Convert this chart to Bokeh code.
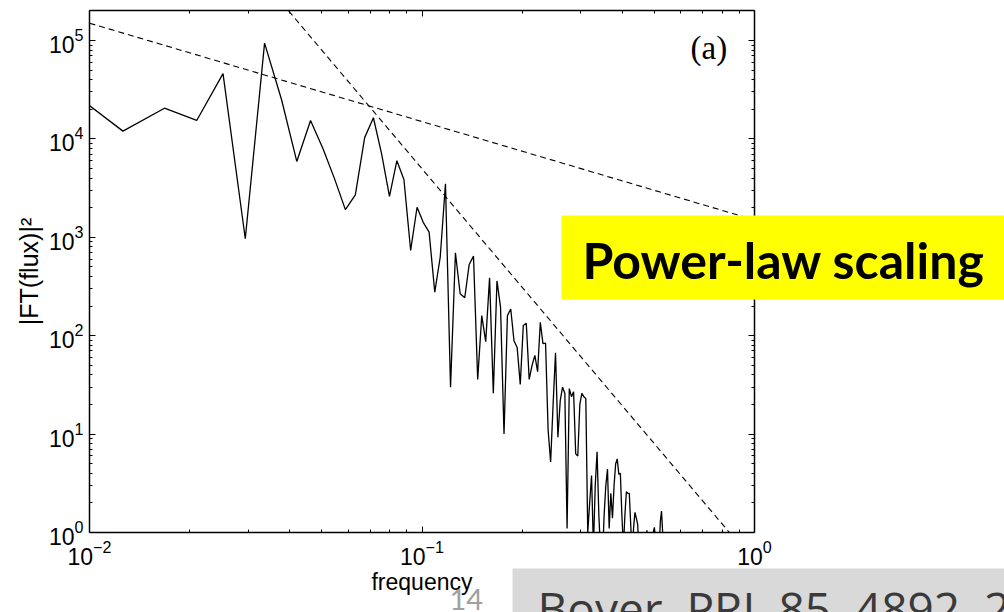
from bokeh.plotting import figure
from bokeh.models import (LogAxis, FixedTicker, LogTickFormatter, BoxAnnotation,
                          Label, Range1d, CustomJSTickFormatter, LogScale)
from bokeh.embed import file_html
from bokeh.resources import INLINE

# ---------------- data ----------------
harmonic = list(range(2, 131))          # FFT bin index
record_length = 238.0                    # frequency = bin / record_length
power = [
    34000, 12000, 20500, 15400, 46000, 966, 94000, 25000, 5900, 15400,   # k=2..11
    7900, 3900, 1910, 2700, 10300, 16400, 7000, 2600, 6000, 3870,         # k=12..21
    735, 2020, 1420, 1130, 277, 628, 3500, 30, 695, 267,                  # k=22..31
    243, 530, 643, 36, 160, 87, 387, 26, 360, 195,                        # k=32..41
    10, 160, 187, 89, 76, 32, 127, 134, 36, 50,                           # k=42..51
    63, 43, 137, 83, 84, 11, 5.2, 20, 67, 9.3,                            # k=52..61
    22, 30, 26, 1.1, 29, 24, 27, 6.3, 6, 20,                              # k=62..71
    26, 24, 23, 1.0, 2, 3.8, 0.7, 3, 6.6, 1.5,                            # k=72..81
    0.6, 0.5, 1.5, 3, 4.4, 1.1, 2.5, 1.4, 3, 5,                           # k=82..91
    5.6, 3.9, 4, 1.5, 0.7, 1.5, 2.6, 2.5, 2.5, 1.2,                       # k=92..101
    0.6, 1.1, 1.6, 1.4, 1.2, 0.6, 0.4, 0.5, 0.3, 0.6,                     # k=102..111
    0.8, 1.05, 0.7, 0.4, 0.5, 0.8, 1.0, 1.13, 0.8, 0.5,                   # k=112..121
    0.4, 0.7, 1.3, 1.65, 1.0, 0.5, 0.3, 0.4, 0.2,                         # k=122..130
]
frequency = [k / record_length for k in harmonic]

# power-law guide lines (endpoints)
fit1_f = [0.01, 1.0]
fit1_p = [1.5e5, 1.5e3]       # ~ f^-1
fit2_f = [0.0397, 0.9]
fit2_p = [2.0e5, 0.76]        # ~ f^-4

x_major = [0.01, 0.1, 1.0]
x_minor = [0.02, 0.03, 0.04, 0.05, 0.06, 0.07, 0.08, 0.09,
           0.2, 0.3, 0.4, 0.5, 0.6, 0.7, 0.8, 0.9]
y_major = [1, 10, 100, 1000, 10000, 100000]
y_minor = [m * d for d in (1, 10, 100, 1000, 10000) for m in range(2, 10)] + [2e5]

x_label = "frequency"
y_label = "|FT(flux)|\u00b2"
panel_tag = "(a)"
callout = "Power-law scaling"
reference = "Boyer, PRL 85, 4892, 2000"
page_no = "14"

# ---------------- layout (pixels of the 1004x612 canvas) ----------------
W, H = 1004, 612
BOX_L, BOX_R, BOX_T, BOX_B = 89, 754, 10, 532
X_DEC = (BOX_R - BOX_L) / 2.0      # px per decade on x (0.01 .. 1)
Y_DEC = 98.4                       # px per decade on y
x_lo = 10 ** (-2 - BOX_L / X_DEC)
x_hi = 10 ** ((W - BOX_R) / X_DEC)
y_lo = 10 ** (-(H - BOX_B) / Y_DEC)
y_hi = 10 ** (BOX_B / Y_DEC)
y_top = 10 ** ((BOX_B - BOX_T) / Y_DEC)

FONT = "'Liberation Sans', Arial, Helvetica, sans-serif"

p = figure(width=W, height=H, x_axis_type=None, y_axis_type=None,
           x_range=Range1d(x_lo, x_hi), y_range=Range1d(y_lo, y_hi),
           output_backend="svg", toolbar_location=None, min_border=0)
p.x_scale = LogScale()
p.y_scale = LogScale()
p.grid.visible = False
p.outline_line_color = None
p.background_fill_color = "white"
p.border_fill_color = "white"

# data lines
p.line(frequency, power, line_color="black", line_width=1.3)
p.line(fit1_f, fit1_p, line_color="black", line_width=1.1, line_dash="6 4")
p.line(fit2_f, fit2_p, line_color="black", line_width=1.1, line_dash="6 4")

# white masks outside the axes box (drawn over the lines, under the axes)
far_x = (x_lo / 100, x_hi * 100)
far_y = (y_lo / 100, y_hi * 100)
masks = [
    dict(left=far_x[0], right=far_x[1], bottom=far_y[0], top=1.0),
    dict(left=far_x[0], right=far_x[1], bottom=y_top, top=far_y[1]),
    dict(left=far_x[0], right=0.01, bottom=far_y[0], top=far_y[1]),
    dict(left=1.0, right=far_x[1], bottom=far_y[0], top=far_y[1]),
]
for kw in masks:
    p.add_layout(BoxAnnotation(fill_color="white", fill_alpha=1.0, line_color=None,
                               level="glyph", **kw))


def make_axis(fixed, bounds, major, minor, show_labels):
    ax = LogAxis(fixed_location=fixed, bounds=bounds,
                 ticker=FixedTicker(ticks=major, minor_ticks=minor))
    ax.formatter = LogTickFormatter() if show_labels else CustomJSTickFormatter(code="return ''")
    ax.major_tick_in = 6
    ax.major_tick_out = 0
    ax.minor_tick_in = 3
    ax.minor_tick_out = 0
    ax.axis_line_color = "black"
    ax.axis_line_width = 1.5
    ax.major_tick_line_color = "black"
    ax.minor_tick_line_color = "black"
    ax.major_tick_line_width = 1
    ax.minor_tick_line_width = 1
    ax.major_label_text_font = FONT
    ax.major_label_text_font_size = "23px" if show_labels else "1px"
    ax.major_label_text_color = "black"
    ax.axis_label_text_font = FONT
    ax.axis_label_text_font_style = "normal"
    ax.axis_label_text_color = "black"
    return ax


xb = make_axis(1.0, (0.01, 1.0), x_major, x_minor, True)
xb.axis_label = x_label
xb.axis_label_text_font_size = "23px"
xb.major_label_standoff = 7
xb.axis_label_standoff = 1
p.add_layout(xb, "below")

yl = make_axis(0.01, (1.0, y_top), y_major, y_minor, True)
yl.axis_label = y_label
yl.axis_label_text_font_size = "25px"
yl.major_label_standoff = 6
yl.axis_label_standoff = 3
p.add_layout(yl, "left")

xt = make_axis(y_top, (0.01, 1.0), x_major, x_minor, False)
xt.major_label_standoff = 0
p.add_layout(xt, "above")

yr = make_axis(1.0, (1.0, y_top), y_major, y_minor, False)
yr.major_label_standoff = 0
p.add_layout(yr, "right")

# annotations (screen units: x from canvas left, y from canvas bottom)
p.add_layout(Label(x=690, y=H - 47, x_units="screen", y_units="screen",
                   text=panel_tag, text_font="'Liberation Serif', 'Times New Roman', serif",
                   text_font_size="33px", text_color="black",
                   text_align="left", text_baseline="alphabetic"))

p.add_layout(BoxAnnotation(left=561, right=W + 10, top=H - 215, bottom=H - 299,
                           left_units="screen", right_units="screen",
                           top_units="screen", bottom_units="screen",
                           fill_color="#ffff00", fill_alpha=1.0, line_color=None))
p.add_layout(Label(x=582, y=H - 259, x_units="screen", y_units="screen",
                   text=callout, text_font="Lato", text_font_style="bold",
                   text_font_size="50px", text_color="black",
                   text_align="left", text_baseline="alphabetic"))

p.add_layout(BoxAnnotation(left=512, right=W + 10, top=H - 568, bottom=-10,
                           left_units="screen", right_units="screen",
                           top_units="screen", bottom_units="screen",
                           fill_color="#d9d9d9", fill_alpha=1.0, line_color=None))
p.add_layout(Label(x=537, y=H - 607, x_units="screen", y_units="screen",
                   text=reference, text_font="'Open Sans'",
                   text_font_size="46px", text_color="#3a3a3a",
                   text_align="left", text_baseline="alphabetic"))
p.add_layout(Label(x=449, y=H - 599, x_units="screen", y_units="screen",
                   text=page_no, text_font="Lato",
                   text_font_size="29px", text_color="#a0a0a0",
                   text_align="left", text_baseline="alphabetic"))

open("out.html", "w").write(file_html(p, INLINE))
